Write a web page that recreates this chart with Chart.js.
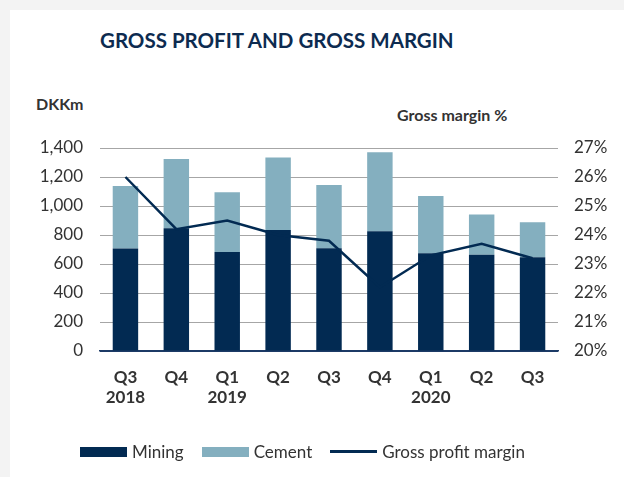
<!DOCTYPE html>
<html>
<head>
<meta charset="utf-8">
<script src="https://cdn.jsdelivr.net/npm/chart.js@4"></script>
<style>
  body{margin:0;background:#f3f3f3;font-family:Lato,"Open Sans",sans-serif;width:624px;height:477px;overflow:hidden;position:relative}
  #card{position:absolute;left:10px;top:10px;width:614px;height:467px;background:#fff}
  #title{position:absolute;left:100px;top:28px;width:344px;text-align:center;white-space:nowrap;font-weight:700;font-size:20.5px;color:#0d2b50}
  .axt{position:absolute;font-weight:700;font-size:16px;color:#333}
  #wrap{position:absolute;left:0;top:0;width:624px;height:477px}
  #legend{position:absolute;left:80px;top:441px;display:flex;align-items:center;font-size:17px;color:#333;white-space:nowrap}
  #legend span.sw{display:inline-block;width:47px;margin-right:5px}
  #legend .item{display:flex;align-items:center;margin-right:18px}
</style>
</head>
<body>
<div id="card"></div>
<div id="title">GROSS PROFIT AND GROSS MARGIN</div>
<div class="axt" style="left:36px;top:94px">DKKm</div>
<div class="axt" style="left:397px;top:105px">Gross margin %</div>
<div id="wrap"><canvas id="c"></canvas></div>
<div id="legend"></div>
<script>
let quarters=['Q3','Q4','Q1','Q2','Q3','Q4','Q1','Q2','Q3'];
let years=['2018','','2019','','','','2020','',''];
let mining=[707,847,682,835,709,826,675,663,647];
let cement=[431,477,413,499,436,544,394,278,241];
let margin=[26.0,24.2,24.5,24.0,23.8,22.2,23.3,23.7,23.2];

const navy='#022a52';
const lightBlue='#84afbf';

let labels=quarters.map((q,i)=>years[i]?[q,years[i]]:[q]);

let chart=new Chart(document.getElementById('c'),{
  data:{
    labels:labels,
    datasets:[
      {type:'line',label:'Gross profit margin',data:margin,yAxisID:'y1',borderColor:navy,borderWidth:2.5,pointRadius:0,tension:0,order:0},
      {type:'bar',label:'Mining',data:mining,backgroundColor:navy,yAxisID:'y',stack:'s',order:1,barPercentage:0.5,categoryPercentage:1},
      {type:'bar',label:'Cement',data:cement,backgroundColor:lightBlue,yAxisID:'y',stack:'s',order:1,barPercentage:0.5,categoryPercentage:1}
    ]
  },
  options:{
    responsive:true,
    maintainAspectRatio:false,
    animation:false,
    layout:{padding:{top:148,left:0,right:0,bottom:0}},
    plugins:{legend:{display:false},tooltip:{enabled:false}},
    scales:{
      x:{
        stacked:true,
        grid:{display:false},
        border:{display:true,color:'#1c3a66',width:1.5},
        ticks:{color:'#333',font:{family:'Lato',size:17,weight:'bold'},padding:8,maxRotation:0,autoSkip:false},
        afterFit:(s)=>{s.height=126}
      },
      y:{
        stacked:true,position:'left',min:0,max:1400,
        grid:{color:(ctx)=>ctx.tick && ctx.tick.value===0?'#1c3a66':'#a6a6a6',lineWidth:1,drawTicks:false},
        border:{display:false},
        ticks:{stepSize:200,color:'#333',font:{family:'Lato',size:17},padding:17},
        afterFit:(s)=>{s.width=100}
      },
      y1:{
        position:'right',min:20,max:27,
        grid:{display:false,drawTicks:false},
        border:{display:false},
        ticks:{stepSize:1,color:'#333',font:{family:'Lato',size:17},padding:16,callback:(v)=>v+'%'},
        afterFit:(s)=>{s.width=66}
      }
    }
  }
});

// legend
let leg=document.getElementById('legend');
[['Mining',navy,10],['Cement',lightBlue,10],['Gross profit margin',navy,2.5]].forEach(([t,c,h])=>{
  let it=document.createElement('div');
  it.className='item';
  let sw=document.createElement('span');
  sw.className='sw';
  sw.style.height=h+'px';
  sw.style.background=c;
  it.appendChild(sw);
  it.appendChild(document.createTextNode(t));
  leg.appendChild(it);
});
</script>
</body>
</html>
